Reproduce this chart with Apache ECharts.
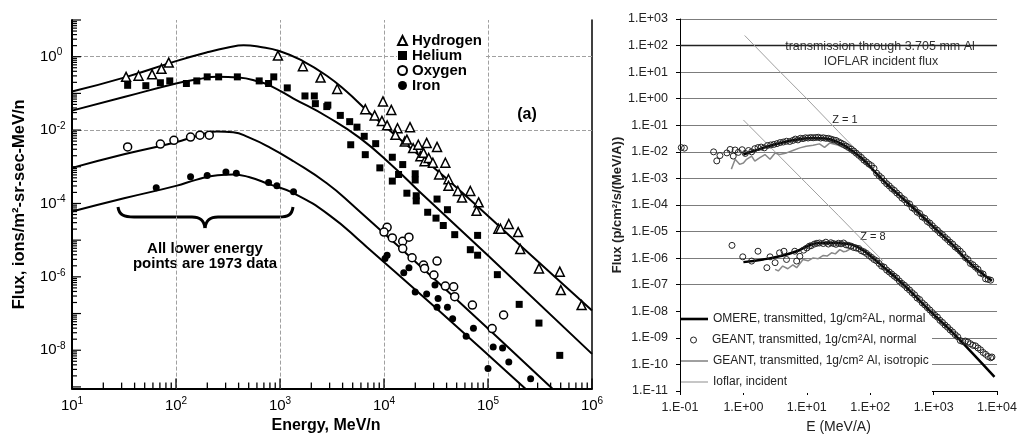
<!DOCTYPE html>
<html><head><meta charset="utf-8">
<script src="https://cdn.jsdelivr.net/npm/echarts@6/dist/echarts.min.js"></script>
<style>html,body{margin:0;padding:0;background:#fff}#c{width:1020px;height:439px}</style>
</head><body><div id="c"></div>
<script>
// ---- values, stored as [log10(E), log10(Flux)] ----
// Left panel (a): model curves
const hModel  = [[1.0,-0.95],[1.5,-0.57],[2.0,-0.12],[2.3,0.12],[2.5,0.25],[2.65,0.31],[2.8,0.27],[3.0,0.15],[3.22,-0.12],[3.45,-0.52],[3.64,-0.95],[3.83,-1.45],[4.03,-1.95],[4.3,-2.6],[4.7,-3.57],[5.3,-5.12],[6.0,-6.92]];
const heModel = [[1.0,-1.47],[1.5,-1.1],[2.0,-0.73],[2.2,-0.62],[2.4,-0.55],[2.6,-0.57],[2.8,-0.68],[2.9,-0.78],[3.13,-1.14],[3.45,-1.63],[3.77,-2.22],[4.09,-3.0],[4.35,-3.7],[5.0,-5.42],[6.0,-8.1]];
const oModel  = [[1.0,-3.03],[1.5,-2.66],[2.0,-2.33],[2.2,-2.16],[2.39,-2.04],[2.55,-2.06],[2.7,-2.2],[2.9,-2.47],[3.13,-2.85],[3.45,-3.45],[3.7,-4.05],[4.5,-6.1],[5.62,-9.05]];
const feModel = [[1.0,-4.22],[1.5,-3.86],[2.0,-3.52],[2.2,-3.35],[2.4,-3.23],[2.55,-3.21],[2.7,-3.28],[2.9,-3.48],[3.13,-3.72],[3.48,-4.33],[3.8,-5.1],[4.5,-6.85],[5.36,-9.05]];
// Left panel (a): measured points
const hydrogenPts = [[1.52,-0.55],[1.64,-0.52],[1.77,-0.48],[1.86,-0.33],[1.93,-0.16],[2.98,0.03],[3.22,-0.26],[3.39,-0.57],[3.55,-0.88],[3.82,-1.43],[3.99,-1.22],[4.07,-1.45],[3.91,-1.60],[3.98,-1.75],[4.03,-1.87],[4.13,-1.95],[4.25,-1.92],[4.11,-2.13],[4.20,-2.31],[4.28,-2.49],[4.41,-2.35],[4.35,-2.71],[4.39,-2.85],[4.22,-2.26],[4.33,-2.40],[4.51,-2.46],[4.38,-2.62],[4.43,-2.76],[4.47,-2.89],[4.59,-2.89],[4.53,-3.21],[4.62,-3.34],[4.62,-3.52],[4.71,-3.66],[4.75,-3.84],[4.83,-3.66],[4.91,-3.97],[4.89,-4.20],[5.10,-4.69],[5.12,-4.69],[5.20,-4.56],[5.29,-4.78],[5.31,-5.24],[5.49,-5.77],[5.69,-5.86],[5.70,-6.36],[5.90,-6.77]];
const heliumPts = [[1.535,-0.78],[1.71,-0.79],[1.85,-0.71],[1.94,-0.66],[2.10,-0.73],[2.20,-0.66],[2.30,-0.55],[2.41,-0.55],[2.59,-0.55],[2.80,-0.66],[2.89,-0.73],[2.94,-0.55],[3.07,-0.85],[3.24,-1.07],[3.33,-1.07],[3.34,-1.28],[3.45,-1.36],[3.46,-1.32],[3.58,-1.60],[3.67,-1.77],[3.74,-1.92],[3.81,-2.17],[3.68,-2.40],[3.92,-2.37],[3.82,-2.67],[4.08,-2.74],[3.96,-3.03],[4.18,-2.94],[4.14,-3.21],[4.30,-3.19],[4.08,-3.39],[4.30,-3.36],[4.22,-3.72],[4.31,-3.79],[4.31,-3.93],[4.51,-3.88],[4.42,-4.24],[4.61,-4.17],[4.50,-4.40],[4.57,-4.60],[4.68,-4.85],[4.90,-4.87],[4.83,-5.26],[4.90,-5.41],[5.09,-5.94],[5.30,-6.75],[5.49,-7.26],[5.69,-8.14]];
const oxygenPts = [[1.535,-2.46],[1.85,-2.38],[1.98,-2.28],[2.14,-2.19],[2.23,-2.14],[2.32,-2.14],[4.03,-4.65],[4.00,-4.78],[4.08,-4.94],[4.18,-5.03],[4.24,-4.92],[4.18,-5.23],[4.27,-5.48],[4.38,-5.68],[4.39,-5.77],[4.51,-5.57],[4.48,-5.95],[4.59,-6.25],[4.67,-6.27],[4.68,-6.54],[4.85,-6.77],[5.15,-7.04],[5.04,-7.41]];
const ironPts = [[1.81,-3.57],[2.14,-3.27],[2.30,-3.24],[2.48,-3.14],[2.58,-3.18],[2.89,-3.43],[2.97,-3.52],[3.13,-3.68],[4.03,-5.41],[4.01,-5.50],[4.24,-5.75],[4.19,-5.89],[4.30,-6.41],[4.41,-6.47],[4.49,-6.22],[4.52,-6.59],[4.51,-6.83],[4.61,-6.83],[4.66,-7.14],[4.86,-7.40],[4.79,-7.62],[5.05,-7.91],[5.14,-7.94],[5.20,-8.32],[5.00,-8.50],[5.41,-8.78]];

// Right panel
const omereZ1 = [[0,-2.10],[0.3,-1.86],[0.6,-1.66],[0.9,-1.52],[1.1,-1.48],[1.3,-1.50],[1.5,-1.64],[1.7,-1.93],[1.9,-2.32],[2.1,-2.82],[2.3,-3.30],[2.62,-3.98],[3.0,-4.83],[3.3,-5.50],[3.57,-6.18],[3.75,-6.55],[3.92,-6.85]];
const omereZ8 = [[0,-6.15],[0.31,-6.05],[0.57,-5.93],[0.84,-5.74],[1.0,-5.56],[1.2,-5.43],[1.41,-5.43],[1.62,-5.46],[1.83,-5.62],[2.04,-5.99],[2.25,-6.42],[2.57,-7.10],[2.99,-8.10],[3.3,-8.80],[3.6,-9.55],[3.96,-10.47]];
const geantZ1 = [[-1.02,-1.78],[-0.98,-1.84],[-0.93,-1.86],[-0.47,-2.00],[-0.42,-2.34],[-0.37,-2.14],[-0.26,-2.04],[-0.21,-1.91],[-0.16,-2.16],[-0.13,-1.93],[-0.08,-2.02],[-0.02,-1.92],[0.03,-2.06],[0.08,-1.95],[0.13,-2.00],[0.18,-1.88],[0.23,-1.84],[0.28,-1.82],[0.33,-1.85],[0.38,-1.76],[0.43,-1.74],[0.48,-1.72],[0.53,-1.69],[0.58,-1.65],[0.63,-1.63],[0.68,-1.60],[0.73,-1.61],[0.78,-1.57],[0.82,-1.52],[0.86,-1.55],[0.90,-1.49],[0.94,-1.50],[0.98,-1.47],[1.02,-1.48],[1.06,-1.46],[1.10,-1.47],[1.14,-1.46],[1.18,-1.45],[1.22,-1.48],[1.26,-1.47],[1.30,-1.49],[1.34,-1.49],[1.38,-1.52],[1.42,-1.55],[1.46,-1.57],[1.50,-1.62],[1.54,-1.67],[1.58,-1.72],[1.62,-1.78],[1.66,-1.84],[1.70,-1.90],[1.74,-1.97],[1.78,-2.05],[1.82,-2.13],[1.86,-2.21],[1.90,-2.31],[1.94,-2.38],[1.98,-2.46],[2.02,-2.52],[2.06,-2.62],[2.10,-2.80],[2.14,-2.90],[2.18,-2.98],[2.22,-3.10],[2.26,-3.20],[2.30,-3.28],[2.34,-3.38],[2.38,-3.45],[2.42,-3.55],[2.46,-3.63],[2.50,-3.74],[2.54,-3.80],[2.58,-3.92],[2.62,-3.96],[2.66,-4.10],[2.70,-4.16],[2.74,-4.27],[2.78,-4.32],[2.82,-4.45],[2.86,-4.50],[2.90,-4.62],[2.94,-4.68],[2.98,-4.78],[3.02,-4.88],[3.06,-4.95],[3.10,-5.05],[3.14,-5.12],[3.18,-5.22],[3.22,-5.30],[3.26,-5.40],[3.30,-5.47],[3.34,-5.58],[3.38,-5.65],[3.42,-5.74],[3.46,-5.84],[3.50,-5.98],[3.54,-6.05],[3.58,-6.20],[3.62,-6.25],[3.66,-6.34],[3.70,-6.42],[3.74,-6.56],[3.78,-6.60],[3.82,-6.78],[3.86,-6.80],[3.90,-6.83]];
const geantZ8 = [[-0.18,-5.52],[-0.01,-5.95],[0.13,-6.11],[0.23,-5.74],[0.37,-6.36],[0.42,-5.95],[0.50,-6.17],[0.57,-5.80],[0.64,-5.74],[0.68,-6.05],[0.81,-5.74],[0.84,-6.11],[0.89,-5.93],[0.95,-5.70],[1.00,-5.62],[1.04,-5.55],[1.07,-5.53],[1.12,-5.47],[1.16,-5.44],[1.20,-5.43],[1.26,-5.45],[1.30,-5.40],[1.34,-5.47],[1.38,-5.42],[1.42,-5.45],[1.46,-5.48],[1.50,-5.44],[1.54,-5.46],[1.58,-5.43],[1.62,-5.50],[1.66,-5.52],[1.70,-5.55],[1.74,-5.60],[1.78,-5.62],[1.82,-5.64],[1.86,-5.72],[1.90,-5.76],[1.94,-5.82],[1.98,-5.90],[2.02,-5.97],[2.06,-6.05],[2.10,-6.10],[2.14,-6.20],[2.18,-6.30],[2.22,-6.34],[2.26,-6.45],[2.30,-6.52],[2.34,-6.60],[2.38,-6.68],[2.42,-6.75],[2.46,-6.86],[2.50,-6.95],[2.54,-7.02],[2.58,-7.12],[2.62,-7.20],[2.66,-7.30],[2.70,-7.38],[2.74,-7.50],[2.78,-7.56],[2.82,-7.68],[2.86,-7.76],[2.90,-7.86],[2.94,-7.95],[2.98,-8.05],[3.02,-8.15],[3.06,-8.22],[3.10,-8.34],[3.14,-8.42],[3.18,-8.52],[3.22,-8.60],[3.26,-8.70],[3.30,-8.78],[3.34,-8.88],[3.38,-8.96],[3.42,-9.10],[3.46,-9.14],[3.50,-9.12],[3.54,-9.16],[3.58,-9.22],[3.62,-9.28],[3.66,-9.30],[3.70,-9.38],[3.74,-9.45],[3.78,-9.55],[3.82,-9.62],[3.86,-9.70],[3.90,-9.75],[3.92,-9.72]];
const isoZ1 = [[-0.19,-2.65],[-0.13,-2.28],[-0.06,-2.47],[0.0,-2.42],[0.05,-2.28],[0.13,-2.16],[0.18,-2.35],[0.26,-2.22],[0.34,-2.10],[0.42,-2.28],[0.50,-2.04],[0.57,-2.10],[0.68,-2.04],[0.78,-1.95],[0.89,-1.85],[0.99,-1.79],[1.10,-1.75],[1.20,-1.70],[1.28,-1.83],[1.36,-1.67],[1.47,-1.73],[1.57,-1.83],[1.73,-1.98]];
const isoZ8 = [[0.50,-6.42],[0.55,-6.48],[0.62,-6.30],[0.70,-6.40],[0.78,-6.25],[0.84,-6.36],[0.94,-6.05],[1.02,-6.10],[1.10,-5.99],[1.18,-6.02],[1.26,-5.90],[1.32,-5.92],[1.39,-5.80],[1.45,-5.84],[1.52,-5.68],[1.58,-5.76],[1.62,-5.74],[1.68,-5.66],[1.73,-5.62]];
const ioflarZ1 = [[0.02,2.38],[0.5,1.2],[1.0,0.0],[1.5,-1.24],[1.7,-1.73],[1.9,-2.25],[2.1,-2.78]];
const ioflarZ8 = [[0.0,-0.80],[0.5,-2.0],[1.0,-3.2],[1.5,-4.4],[2.0,-5.62],[2.2,-6.1]];

// ---- tick values ----
const leftXRange = [10, 1e6];
const leftYRange = [9e-10, 10];
const leftXMajor = [10, 100, 1e3, 1e4, 1e5, 1e6];
const leftXDecades = [10, 100, 1e3, 1e4, 1e5];
const leftYMajor = [10, 1, 1e-1, 1e-2, 1e-3, 1e-4, 1e-5, 1e-6, 1e-7, 1e-8, 1e-9];
const leftYLabels = [1, 1e-2, 1e-4, 1e-6, 1e-8];
const leftYDecades = [1, 1e-1, 1e-2, 1e-3, 1e-4, 1e-5, 1e-6, 1e-7, 1e-8, 1e-9];
const minorMult = [2, 3, 4, 5, 6, 7, 8, 9];
const leftXGrid = [100, 1e3, 1e4, 1e5];
const leftYGrid = [1, 1e-2, 1e-4, 1e-6, 1e-8];
const rightDarkLines = [100, 1e-5];

const names = {
  omere: 'OMERE, transmitted, 1g/cm2AL, normal',
  geantN: 'GEANT, transmitted, 1g/cm2Al, normal',
  geantI: 'GEANT, transmitted, 1g/cm2 Al, isotropic',
  ioflar: 'Ioflar, incident'
};

const lin = a => a.map(p => [Math.pow(10, p[0]), Math.pow(10, p[1])]);
const minorOf = decs => decs.flatMap(d => minorMult.map(m => m * d));
const FONT = '"Liberation Sans", Arial, sans-serif';
const expOf = v => Math.round(Math.log10(v));
const powLabel = v => '{b|10}{s|' + expOf(v) + '}';
const eLabel = v => { const e = expOf(v); return '1.E' + (e < 0 ? '-' : '+') + String(Math.abs(e)).padStart(2, '0'); };
const powRich = { b: { fontSize: 15, lineHeight: 18, fontFamily: FONT, color: '#000' }, s: { fontSize: 10, lineHeight: 10, verticalAlign: 'top', fontFamily: FONT, color: '#000' } };

const chart = echarts.init(document.getElementById('c'), null, { renderer: 'canvas' });
const gridLineStyle = { color: '#a0a0a0', type: [4, 2], width: 1 };
const legendBase = { orient: 'vertical', padding: 0, itemWidth: 27, selectedMode: false, left: 681,
  itemStyle: { borderWidth: 0 },
  formatter: n => n.replace('cm2', 'cm{sup|2}'),
  textStyle: { fontSize: 12, lineHeight: 14, color: '#222',
    rich: { sup: { fontSize: 9, lineHeight: 9, verticalAlign: 'top', color: '#222' } } } };

const option = {
  animation: false,
  backgroundColor: '#fff',
  textStyle: { fontFamily: FONT },
  grid: [
    { left: 72, right: 428, top: 20, bottom: 46 },
    { left: 680, right: 22, top: 19, bottom: 44 }
  ],
  xAxis: [
    { type: 'log', gridIndex: 0, min: leftXRange[0], max: leftXRange[1],
      axisLine: { lineStyle: { color: '#000', width: 2 } },
      axisTick: { show: false },
      axisLabel: { customValues: leftXMajor, formatter: powLabel, rich: powRich, margin: 8 },
      splitLine: { show: false },
      name: 'Energy, MeV/n', nameLocation: 'middle', nameGap: 29,
      nameTextStyle: { fontWeight: 'bold', fontSize: 16, color: '#000', padding: [0, 12, 0, 0] } },
    { type: 'log', gridIndex: 1, min: 0.1, max: 1e4, interval: 1,
      axisLine: { lineStyle: { color: '#000', width: 1 } },
      axisTick: { show: true, length: 4, lineStyle: { color: '#000' } },
      axisLabel: { formatter: eLabel, fontSize: 12.5, color: '#222', margin: 10 },
      splitLine: { show: false },
      name: 'E (MeV/A)', nameLocation: 'middle', nameGap: 29,
      nameTextStyle: { fontSize: 14, color: '#222' } }
  ],
  yAxis: [
    { type: 'log', gridIndex: 0, min: leftYRange[0], max: leftYRange[1],
      axisLine: { lineStyle: { color: '#000', width: 2 } },
      axisTick: { show: false },
      axisLabel: { customValues: leftYLabels, formatter: powLabel, rich: powRich, align: 'left', margin: 32 },
      splitLine: { show: false },
      name: 'Flux, ions/m²-sr-sec-MeV/n', nameLocation: 'middle', nameGap: 44,
      nameTextStyle: { fontWeight: 'bold', fontSize: 16.5, color: '#000' } },
    { type: 'log', gridIndex: 0, min: leftYRange[0], max: leftYRange[1], position: 'right',
      axisLine: { show: true, lineStyle: { color: '#000', width: 1.5 } },
      axisTick: { show: false }, axisLabel: { show: false }, splitLine: { show: false } },
    { type: 'log', gridIndex: 1, min: 1e-11, max: 1e3, interval: 1,
      axisLine: { show: true, lineStyle: { color: '#000', width: 1 } },
      axisTick: { show: true, length: 4, lineStyle: { color: '#000' } },
      axisLabel: { formatter: eLabel, fontSize: 12.5, color: '#222', margin: 12 },
      splitLine: { show: true, lineStyle: { color: '#7c7c7c', width: 1 } },
      name: 'Flux (p/cm²/s/(MeV/A))', nameLocation: 'middle', nameGap: 54,
      nameTextStyle: { fontWeight: 'bold', fontSize: 13, color: '#222' } }
  ],
  legend: [
    { left: 397, top: 33, z: 10, orient: 'vertical', padding: [0, 2, 0, 0], itemWidth: 9, itemHeight: 9, itemGap: 0,
      backgroundColor: '#fff',
      selectedMode: false, data: ['Hydrogen', 'Helium', 'Oxygen', 'Iron'],
      textStyle: { fontWeight: 'bold', fontSize: 15, lineHeight: 14.5, color: '#000' } },
    Object.assign({}, legendBase, { top: 312, itemHeight: 2.6, icon: 'rect', data: [names.omere] }),
    Object.assign({}, legendBase, { left: 690, top: 333, itemHeight: 6, icon: 'circle',
      itemStyle: { color: 'rgba(255,255,255,0)', borderColor: '#222', borderWidth: 1 }, data: [names.geantN] }),
    Object.assign({}, legendBase, { top: 354, itemHeight: 1.6, icon: 'rect', data: [names.geantI] }),
    Object.assign({}, legendBase, { top: 375, itemHeight: 1.2, icon: 'rect', data: [names.ioflar] })
  ],
  graphic: [
    { type: 'rect', z: 1, shape: { x: 681, y: 306, width: 251, height: 87 }, style: { fill: '#fff' } },
    { type: 'bezierCurve', shape: { x1: 118, y1: 207, cpx1: 119, cpy1: 215, cpx2: 124, cpy2: 217, x2: 134, y2: 217 }, style: { stroke: '#000', lineWidth: 3, fill: null } },
    { type: 'line', shape: { x1: 134, y1: 217, x2: 192, y2: 217 }, style: { stroke: '#000', lineWidth: 3 } },
    { type: 'bezierCurve', shape: { x1: 192, y1: 217, cpx1: 200, cpy1: 217, cpx2: 204, cpy2: 220, x2: 205, y2: 228 }, style: { stroke: '#000', lineWidth: 3, fill: null } },
    { type: 'bezierCurve', shape: { x1: 205, y1: 228, cpx1: 206, cpy1: 220, cpx2: 210, cpy2: 217, x2: 218, y2: 217 }, style: { stroke: '#000', lineWidth: 3, fill: null } },
    { type: 'line', shape: { x1: 218, y1: 217, x2: 279, y2: 217 }, style: { stroke: '#000', lineWidth: 3 } },
    { type: 'bezierCurve', shape: { x1: 279, y1: 217, cpx1: 288, cpy1: 217, cpx2: 292, cpy2: 215, x2: 293, y2: 207 }, style: { stroke: '#000', lineWidth: 3, fill: null } },
    { type: 'text', x: 205, y: 256, style: { text: 'All lower energy\npoints are 1973 data', font: 'bold 15px ' + FONT, fill: '#000', align: 'center', verticalAlign: 'middle', textAlign: 'center', textVerticalAlign: 'middle', lineHeight: 15 } },
    { type: 'text', x: 527, y: 115, style: { text: '(a)', font: 'bold 16px ' + FONT, fill: '#000', align: 'center', verticalAlign: 'middle', textAlign: 'center', textVerticalAlign: 'middle' } },
    { type: 'text', x: 880, y: 47, style: { text: 'transmission through 3.705 mm Al', font: '12.5px ' + FONT, fill: '#333', align: 'center', verticalAlign: 'middle', textAlign: 'center', textVerticalAlign: 'middle' } },
    { type: 'text', x: 881, y: 62, style: { text: 'IOFLAR incident flux', font: '12.5px ' + FONT, fill: '#333', align: 'center', verticalAlign: 'middle', textAlign: 'center', textVerticalAlign: 'middle' } },
    { type: 'text', x: 845, y: 120, style: { text: 'Z = 1', font: '11px ' + FONT, fill: '#222', align: 'center', verticalAlign: 'middle', textAlign: 'center', textVerticalAlign: 'middle' } },
    { type: 'text', x: 873, y: 237, style: { text: 'Z = 8', font: '11px ' + FONT, fill: '#222', align: 'center', verticalAlign: 'middle', textAlign: 'center', textVerticalAlign: 'middle' } }
  ],
  series: [
    { name: 'H model', type: 'line', xAxisIndex: 0, yAxisIndex: 0, data: lin(hModel), smooth: true, symbol: 'none',
      lineStyle: { color: '#000', width: 2 }, z: 3,
      markLine: { silent: true, symbol: 'none', z: 1, label: { show: false }, lineStyle: gridLineStyle,
        data: leftXGrid.map(v => ({ xAxis: v })).concat(leftYGrid.map(v => ({ yAxis: v }))) } },
    { name: 'He model', type: 'line', xAxisIndex: 0, yAxisIndex: 0, data: lin(heModel), smooth: true, symbol: 'none', lineStyle: { color: '#000', width: 2 }, z: 3 },
    { name: 'O model', type: 'line', xAxisIndex: 0, yAxisIndex: 0, data: lin(oModel), smooth: true, symbol: 'none', lineStyle: { color: '#000', width: 2 }, z: 3 },
    { name: 'Fe model', type: 'line', xAxisIndex: 0, yAxisIndex: 0, data: lin(feModel), smooth: true, symbol: 'none', lineStyle: { color: '#000', width: 2 }, z: 3 },
    { name: 'Hydrogen', type: 'scatter', xAxisIndex: 0, yAxisIndex: 0, data: lin(hydrogenPts), symbol: 'triangle', symbolSize: 9,
      itemStyle: { color: '#fff', borderColor: '#000', borderWidth: 1.5, opacity: 1 }, z: 4 },
    { name: 'Helium', type: 'scatter', xAxisIndex: 0, yAxisIndex: 0, data: lin(heliumPts), symbol: 'rect', symbolSize: 7,
      itemStyle: { color: '#000', opacity: 1 }, z: 4 },
    { name: 'Oxygen', type: 'scatter', xAxisIndex: 0, yAxisIndex: 0, data: lin(oxygenPts), symbol: 'circle', symbolSize: 8,
      itemStyle: { color: '#fff', borderColor: '#000', borderWidth: 1.5, opacity: 1 }, z: 4 },
    { name: 'Iron', type: 'scatter', xAxisIndex: 0, yAxisIndex: 0, data: lin(ironPts), symbol: 'circle', symbolSize: 7,
      itemStyle: { color: '#000', opacity: 1 }, z: 4 },

    { name: names.ioflar, type: 'line', xAxisIndex: 1, yAxisIndex: 2, data: lin(ioflarZ1), symbol: 'none', lineStyle: { color: '#a0a0a0', width: 1 }, itemStyle: { color: '#a0a0a0' }, z: 2 },
    { name: names.ioflar, type: 'line', xAxisIndex: 1, yAxisIndex: 2, data: lin(ioflarZ8), symbol: 'none', lineStyle: { color: '#a0a0a0', width: 1 }, itemStyle: { color: '#a0a0a0' }, z: 2 },
    { name: names.geantI, type: 'line', xAxisIndex: 1, yAxisIndex: 2, data: lin(isoZ1), symbol: 'none', lineStyle: { color: '#888', width: 1.5 }, itemStyle: { color: '#888' }, z: 2 },
    { name: names.geantI, type: 'line', xAxisIndex: 1, yAxisIndex: 2, data: lin(isoZ8), symbol: 'none', lineStyle: { color: '#888', width: 1.5 }, itemStyle: { color: '#888' }, z: 2 },
    { name: names.omere, type: 'line', xAxisIndex: 1, yAxisIndex: 2, data: lin(omereZ1), smooth: true, symbol: 'none', lineStyle: { color: '#000', width: 2.5 }, itemStyle: { color: '#000' }, z: 3,
      markLine: { silent: true, symbol: 'none', z: 1, label: { show: false }, lineStyle: { color: '#222', width: 1.3, type: 'solid' },
        data: rightDarkLines.map(v => ({ yAxis: v })) } },
    { name: names.omere, type: 'line', xAxisIndex: 1, yAxisIndex: 2, data: lin(omereZ8), smooth: true, symbol: 'none', lineStyle: { color: '#000', width: 2.5 }, itemStyle: { color: '#000' }, z: 3 },
    { name: names.geantN, type: 'scatter', xAxisIndex: 1, yAxisIndex: 2, data: lin(geantZ1), symbol: 'circle', symbolSize: 6,
      itemStyle: { color: 'rgba(255,255,255,0)', borderColor: '#222', borderWidth: 1, opacity: 1 }, z: 4 },
    { name: names.geantN, type: 'scatter', xAxisIndex: 1, yAxisIndex: 2, data: lin(geantZ8), symbol: 'circle', symbolSize: 6,
      itemStyle: { color: 'rgba(255,255,255,0)', borderColor: '#222', borderWidth: 1, opacity: 1 }, z: 4 }
  ]
};
chart.setOption(option);

// Left-panel tick marks: positions come from the chart's own log axes (convertToPixel),
// then the option is set again with these tick graphics added.
const tickGraphics = [];
const finder = { xAxisIndex: 0, yAxisIndex: 0 };
const addXTicks = (vals, len) => vals.forEach(v => {
  const p = chart.convertToPixel(finder, [v, leftYRange[0]]);
  if (p && isFinite(p[0])) tickGraphics.push({ type: 'line', z: 20, silent: true,
    shape: { x1: p[0], y1: p[1], x2: p[0], y2: p[1] - len }, style: { stroke: '#000', lineWidth: 1.3 } });
});
const addYTicks = (vals, len) => vals.forEach(v => {
  const p = chart.convertToPixel(finder, [leftXRange[0], v]);
  if (p && isFinite(p[1])) tickGraphics.push({ type: 'line', z: 20, silent: true,
    shape: { x1: p[0], y1: p[1], x2: p[0] + len, y2: p[1] }, style: { stroke: '#000', lineWidth: 1.2 } });
});
addXTicks(leftXMajor, 10);
addXTicks(minorOf(leftXDecades), 6);
addYTicks(leftYMajor, 9);
addYTicks(minorOf(leftYDecades), 5);
option.graphic = option.graphic.concat(tickGraphics);
chart.setOption(option, true);
</script></body></html>
